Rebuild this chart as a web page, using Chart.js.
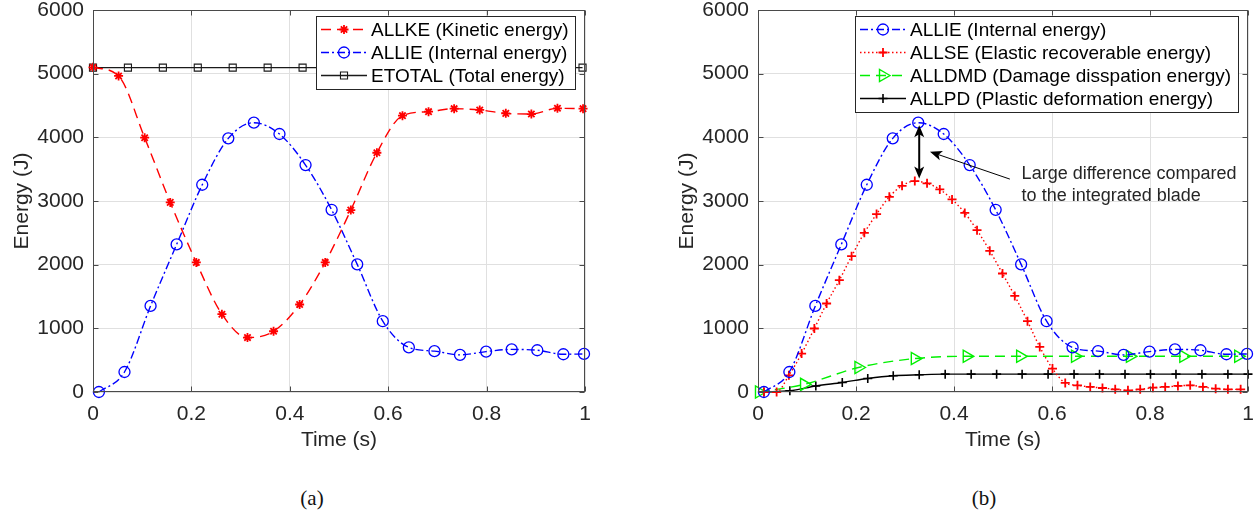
<!DOCTYPE html>
<html><head><meta charset="utf-8">
<script src="https://cdn.jsdelivr.net/npm/chart.js@4.4.1/dist/chart.umd.min.js"></script>
<style>
html,body{margin:0;padding:0;background:#fff;width:1257px;height:525px;overflow:hidden;position:relative}
#wa{position:absolute;left:0;top:0;width:620px;height:460px}
#wb{position:absolute;left:665px;top:0;width:592px;height:460px}
.cap{position:absolute;top:486px;font-family:"Liberation Serif","DejaVu Serif",serif;font-size:21px;color:#111;transform:translateX(-50%);white-space:nowrap}
</style></head><body>
<div id="wa"><canvas id="ca"></canvas></div>
<div id="wb"><canvas id="cb"></canvas></div>
<div class="cap" style="left:312px">(a)</div>
<div class="cap" style="left:984px">(b)</div>
<script>
// ---- tick labels / titles ----
const xTicks = [0, 0.2, 0.4, 0.6, 0.8, 1];
const yTicks = [0, 1000, 2000, 3000, 4000, 5000, 6000];
const xTitle = 'Time (s)';
const yTitle = 'Energy (J)';

// ---- (a) series ----
const keX = [0.0, 0.052, 0.105, 0.157, 0.21, 0.262, 0.314, 0.367, 0.42, 0.472, 0.524, 0.577, 0.629, 0.682, 0.734, 0.786, 0.839, 0.891, 0.944, 0.996];
const keY = [5100, 4964, 3994, 2978, 2035, 1222, 855, 954, 1374, 2035, 2857, 3758, 4340, 4403, 4450, 4430, 4377, 4366, 4456, 4450];
const ieX = [0.012, 0.064, 0.117, 0.17, 0.222, 0.275, 0.327, 0.379, 0.432, 0.485, 0.537, 0.589, 0.642, 0.694, 0.746, 0.799, 0.851, 0.903, 0.956, 0.998];
const ieY = [0, 314, 1352, 2318, 3255, 3984, 4230, 4052, 3565, 2862, 2005, 1112, 700, 642, 583, 635, 669, 656, 593, 598];
const etX = [0.0, 0.071, 0.142, 0.213, 0.284, 0.355, 0.426, 0.497, 0.568, 0.639, 0.71, 0.781, 0.852, 0.923, 0.995];
const etY = [5095, 5095, 5095, 5095, 5095, 5095, 5095, 5095, 5095, 5095, 5095, 5095, 5095, 5095, 5095];

// ---- (b) series ----
const seX = [0.012, 0.038, 0.063, 0.089, 0.115, 0.14, 0.166, 0.191, 0.217, 0.242, 0.268, 0.294, 0.32, 0.345, 0.371, 0.396, 0.422, 0.447, 0.473, 0.499, 0.524, 0.55, 0.575, 0.601, 0.627, 0.652, 0.678, 0.703, 0.729, 0.755, 0.78, 0.806, 0.831, 0.857, 0.882, 0.908, 0.934, 0.959, 0.985];
const seY = [0, 0, 262, 603, 997, 1390, 1756, 2134, 2500, 2794, 3066, 3239, 3313, 3277, 3182, 3025, 2812, 2542, 2217, 1861, 1509, 1112, 708, 368, 142, 105, 79, 63, 42, 26, 42, 68, 79, 95, 105, 79, 52, 42, 42];
const dmX = [0.002, 0.094, 0.205, 0.32, 0.426, 0.535, 0.647, 0.759, 0.868, 0.98];
const dmY = [0, 120, 385, 525, 561, 561, 561, 561, 561, 561];
const pdX = [0.012, 0.065, 0.118, 0.172, 0.224, 0.276, 0.329, 0.382, 0.435, 0.487, 0.539, 0.592, 0.645, 0.697, 0.749, 0.801, 0.853, 0.906, 0.959, 1.0];
const pdY = [0, 20, 95, 150, 212, 255, 270, 280, 280, 280, 280, 280, 280, 280, 280, 280, 280, 280, 280, 280];

const labelsA = ['ALLKE (Kinetic energy)', 'ALLIE (Internal energy)', 'ETOTAL (Total energy)'];
const labelsB = ['ALLIE (Internal energy)', 'ALLSE (Elastic recoverable energy)', 'ALLDMD (Damage disspation energy)', 'ALLPD (Plastic deformation energy)'];

// ---- annotation (b), data coordinates ----
const noteLines = ['Large difference compared', 'to the integrated blade'];
const noteAnchor = {x: 0.538, y: 3423};
const dblArrow = {x: 0.329, yTop: 4190, yBot: 3355};
const pointer = {fromX: 0.514, fromY: 3344, toX: 0.351, toY: 3774};

const FONT = '"Liberation Sans", Arial, Helvetica, sans-serif';
const TXT = '#262626';
Chart.defaults.font.family = FONT;
Chart.defaults.color = TXT;

function pts(xs, ys) { return xs.map((x, i) => ({x: x, y: ys[i]})); }

function series(label, xs, ys, color, dash, style, radius, rot, bw) {
  return {
    label: label, data: pts(xs, ys),
    borderColor: color, borderWidth: 1.4, borderDash: dash,
    pointStyle: style, pointRadius: radius, pointRotation: rot || 0,
    pointBorderColor: color, pointBackgroundColor: 'rgba(0,0,0,0)',
    pointBorderWidth: bw, pointHoverRadius: radius,
    cubicInterpolationMode: 'monotone', fill: false, clip: false
  };
}

function drawMarker(ctx, d, x, y) {
  const r = d.pointRadius;
  ctx.save();
  ctx.setLineDash([]);
  ctx.strokeStyle = d.pointBorderColor;
  ctx.lineWidth = d.pointBorderWidth;
  ctx.beginPath();
  if (d.pointStyle === 'circle') {
    ctx.arc(x, y, r, 0, Math.PI * 2);
  } else if (d.pointStyle === 'rect') {
    const s = r * Math.SQRT1_2;
    ctx.rect(x - s, y - s, 2 * s, 2 * s);
  } else if (d.pointStyle === 'cross') {
    ctx.moveTo(x - r, y); ctx.lineTo(x + r, y);
    ctx.moveTo(x, y - r); ctx.lineTo(x, y + r);
  } else if (d.pointStyle === 'star') {
    ctx.moveTo(x - r, y); ctx.lineTo(x + r, y);
    ctx.moveTo(x, y - r); ctx.lineTo(x, y + r);
    const s = r * Math.SQRT1_2;
    ctx.moveTo(x - s, y - s); ctx.lineTo(x + s, y + s);
    ctx.moveTo(x - s, y + s); ctx.lineTo(x + s, y - s);
  } else if (d.pointStyle === 'triangle') {
    const a = r * 1.5 / Math.sqrt(3);
    ctx.moveTo(x + r, y);
    ctx.lineTo(x - r / 2, y - a);
    ctx.lineTo(x - r / 2, y + a);
    ctx.closePath();
  }
  ctx.stroke();
  ctx.restore();
}

function drawLegend(chart, labels) {
  const ctx = chart.ctx, a = chart.chartArea;
  const items = chart.data.datasets;
  ctx.save();
  ctx.font = '19px ' + FONT;
  const tw = Math.max.apply(null, labels.map(t => ctx.measureText(t).width));
  const rowH = 23, sample = 46;
  const w = Math.round(5 + sample + 4 + tw + 7), h = labels.length * rowH + 4;
  const x0 = Math.round(a.right - 10 - w), y0 = Math.round(a.top + 6);
  ctx.fillStyle = '#fff';
  ctx.fillRect(x0, y0, w, h);
  ctx.strokeStyle = '#262626'; ctx.lineWidth = 1;
  ctx.strokeRect(x0 + 0.5, y0 + 0.5, w, h);
  labels.forEach((t, i) => {
    const d = items[i];
    const cy = y0 + 2 + rowH * i + rowH / 2;
    ctx.save();
    ctx.setLineDash(d.borderDash || []);
    ctx.strokeStyle = d.borderColor; ctx.lineWidth = d.borderWidth;
    ctx.beginPath(); ctx.moveTo(x0 + 5, cy); ctx.lineTo(x0 + 5 + sample, cy); ctx.stroke();
    ctx.restore();
    drawMarker(ctx, d, x0 + 5 + sample / 2, cy);
    ctx.fillStyle = '#000';
    ctx.textBaseline = 'middle'; ctx.textAlign = 'left';
    ctx.fillText(t, x0 + 5 + sample + 4, cy + 1);
  });
  ctx.restore();
}

function drawFrame(chart) {
  const ctx = chart.ctx, a = chart.chartArea, sx = chart.scales.x, sy = chart.scales.y;
  ctx.save();
  ctx.strokeStyle = '#4a4a4a'; ctx.lineWidth = 1;
  const L = Math.round(a.left) + 0.5, R = Math.round(a.right) - 0.5, T = Math.round(a.top) + 0.5, B = Math.round(a.bottom) - 0.5;
  ctx.strokeRect(L, T, R - L, B - T);
  ctx.beginPath();
  const tl = 5;
  xTicks.forEach(v => {
    const px = Math.round(sx.getPixelForValue(v)) + 0.5;
    ctx.moveTo(px, B); ctx.lineTo(px, B - tl);
    ctx.moveTo(px, T); ctx.lineTo(px, T + tl);
  });
  yTicks.forEach(v => {
    const py = Math.round(sy.getPixelForValue(v)) + 0.5;
    ctx.moveTo(L, py); ctx.lineTo(L + tl, py);
    ctx.moveTo(R, py); ctx.lineTo(R - tl, py);
  });
  ctx.stroke();
  ctx.restore();
}

function arrowHead(ctx, tx, ty, ang, len, hw, notch) {
  const c = Math.cos(ang), s = Math.sin(ang);
  const bx = tx - c * len, by = ty - s * len;
  ctx.beginPath();
  ctx.moveTo(tx, ty);
  ctx.lineTo(bx - s * hw, by + c * hw);
  ctx.lineTo(tx - c * (len - notch), ty - s * (len - notch));
  ctx.lineTo(bx + s * hw, by - c * hw);
  ctx.closePath();
  ctx.fill();
}

function drawNotes(chart) {
  const ctx = chart.ctx, sx = chart.scales.x, sy = chart.scales.y;
  ctx.save();
  ctx.fillStyle = '#000'; ctx.strokeStyle = '#000';
  const ax = sx.getPixelForValue(dblArrow.x);
  const yt = sy.getPixelForValue(dblArrow.yTop), yb = sy.getPixelForValue(dblArrow.yBot);
  ctx.lineWidth = 2;
  ctx.beginPath(); ctx.moveTo(ax, yt + 6); ctx.lineTo(ax, yb - 6); ctx.stroke();
  arrowHead(ctx, ax, yt, -Math.PI / 2, 12, 5, 3);
  arrowHead(ctx, ax, yb, Math.PI / 2, 12, 5, 3);
  const fx = sx.getPixelForValue(pointer.fromX), fy = sy.getPixelForValue(pointer.fromY);
  const tx = sx.getPixelForValue(pointer.toX), ty = sy.getPixelForValue(pointer.toY);
  const ang = Math.atan2(ty - fy, tx - fx);
  ctx.lineWidth = 1;
  ctx.beginPath(); ctx.moveTo(fx, fy); ctx.lineTo(tx - Math.cos(ang) * 8, ty - Math.sin(ang) * 8); ctx.stroke();
  arrowHead(ctx, tx, ty, ang, 12, 5, 3);
  ctx.font = '18px ' + FONT;
  ctx.fillStyle = TXT;
  ctx.textAlign = 'left'; ctx.textBaseline = 'middle';
  const nx = sx.getPixelForValue(noteAnchor.x), ny = sy.getPixelForValue(noteAnchor.y);
  noteLines.forEach((t, i) => ctx.fillText(t, nx, ny + i * 22));
  ctx.restore();
}

function makeChart(id, datasets, labels, rightPad, notes) {
  return new Chart(document.getElementById(id), {
    type: 'line',
    data: {datasets: datasets},
    options: {
      responsive: true, maintainAspectRatio: false, animation: false, devicePixelRatio: 1,
      layout: {padding: {top: 10, right: rightPad, bottom: 0, left: 0}},
      plugins: {legend: {display: false}, tooltip: {enabled: false}},
      scales: {
        x: {
          type: 'linear', min: 0, max: 1,
          afterFit: s => { s.height = 68; s.paddingLeft = 0; s.paddingRight = 0; },
          afterBuildTicks: s => { s.ticks = xTicks.map(v => ({value: v})); },
          ticks: {font: {size: 21}, color: TXT, padding: 10, maxRotation: 0, autoSkip: false,
                  callback: v => String(v)},
          grid: {color: '#e0e0e0', lineWidth: 1, drawTicks: false},
          border: {display: false},
          title: {display: true, text: xTitle, font: {size: 21}, color: TXT, padding: {top: 0, bottom: 7}}
        },
        y: {
          type: 'linear', min: 0, max: 6000,
          afterFit: s => { s.width = 93; s.paddingTop = 0; s.paddingBottom = 0; },
          afterBuildTicks: s => { s.ticks = yTicks.map(v => ({value: v})); },
          ticks: {font: {size: 21}, color: TXT, padding: 9, autoSkip: false,
                  callback: v => String(v)},
          grid: {color: '#e0e0e0', lineWidth: 1, drawTicks: false},
          border: {display: false},
          title: {display: true, text: yTitle, font: {size: 21}, color: TXT, padding: {top: 10, bottom: 0}}
        }
      }
    },
    plugins: [{
      id: 'matlabLook',
      afterDatasetsDraw(chart) {
        drawFrame(chart);
        if (notes) drawNotes(chart);
        drawLegend(chart, labels);
      }
    }]
  });
}

makeChart('ca', [
  series(labelsA[0], keX, keY, '#ff0000', [10, 6], 'star', 4.5, 0, 1.8),
  series(labelsA[1], ieX, ieY, '#0000ff', [8, 3, 2, 3], 'circle', 5.5, 0, 1.3),
  series(labelsA[2], etX, etY, '#1a1a1a', [], 'rect', 5, 0, 1.1)
], labelsA, 35, false);

makeChart('cb', [
  series(labelsB[0], ieX, ieY, '#0000ff', [8, 3, 2, 3], 'circle', 5.5, 0, 1.3),
  series(labelsB[1], seX, seY, '#ff0000', [1.5, 2.5], 'cross', 4.5, 0, 1.8),
  series(labelsB[2], dmX, dmY, '#00f000', [10, 6], 'triangle', 7, 90, 1.4),
  series(labelsB[3], pdX, pdY, '#000000', [], 'cross', 4.5, 0, 1.6)
], labelsB, 9, true);
</script>
</body></html>
